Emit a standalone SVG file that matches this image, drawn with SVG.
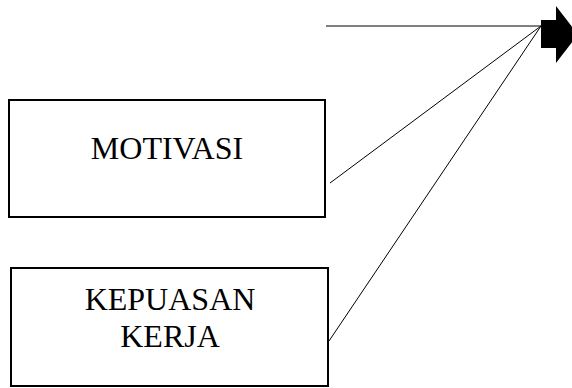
<svg xmlns="http://www.w3.org/2000/svg" width="572" height="388" viewBox="0 0 572 388">
  <style>
    .box { fill: #ffffff; stroke: #000000; stroke-width: 2; }
    .label { font-family: "Liberation Serif", "Times New Roman", serif; font-size: 32px; fill: #000000; text-anchor: middle; }
    .link { stroke: #000000; stroke-width: 1; fill: none; }
  </style>
  <rect width="572" height="388" fill="#ffffff"/>

  <g id="connectors">
    <line class="link" x1="326" y1="26" x2="541" y2="26"/>
    <line class="link" x1="330" y1="183" x2="541" y2="26"/>
    <line class="link" x1="329" y1="341" x2="541" y2="26"/>
    <!-- block arrow at the meeting point -->
    <polygon points="541,20 556,20 556,6 578,34.5 556,63 556,48 541,48" fill="#000000"/>
  </g>

  <g id="motivasi">
    <rect class="box" x="9" y="100" width="316" height="117"/>
    <text class="label" x="167" y="159">MOTIVASI</text>
  </g>

  <g id="kepuasan-kerja">
    <rect class="box" x="11" y="268" width="317" height="118"/>
    <text class="label" x="170" y="310">KEPUASAN</text>
    <text class="label" x="170" y="347">KERJA</text>
  </g>
</svg>
